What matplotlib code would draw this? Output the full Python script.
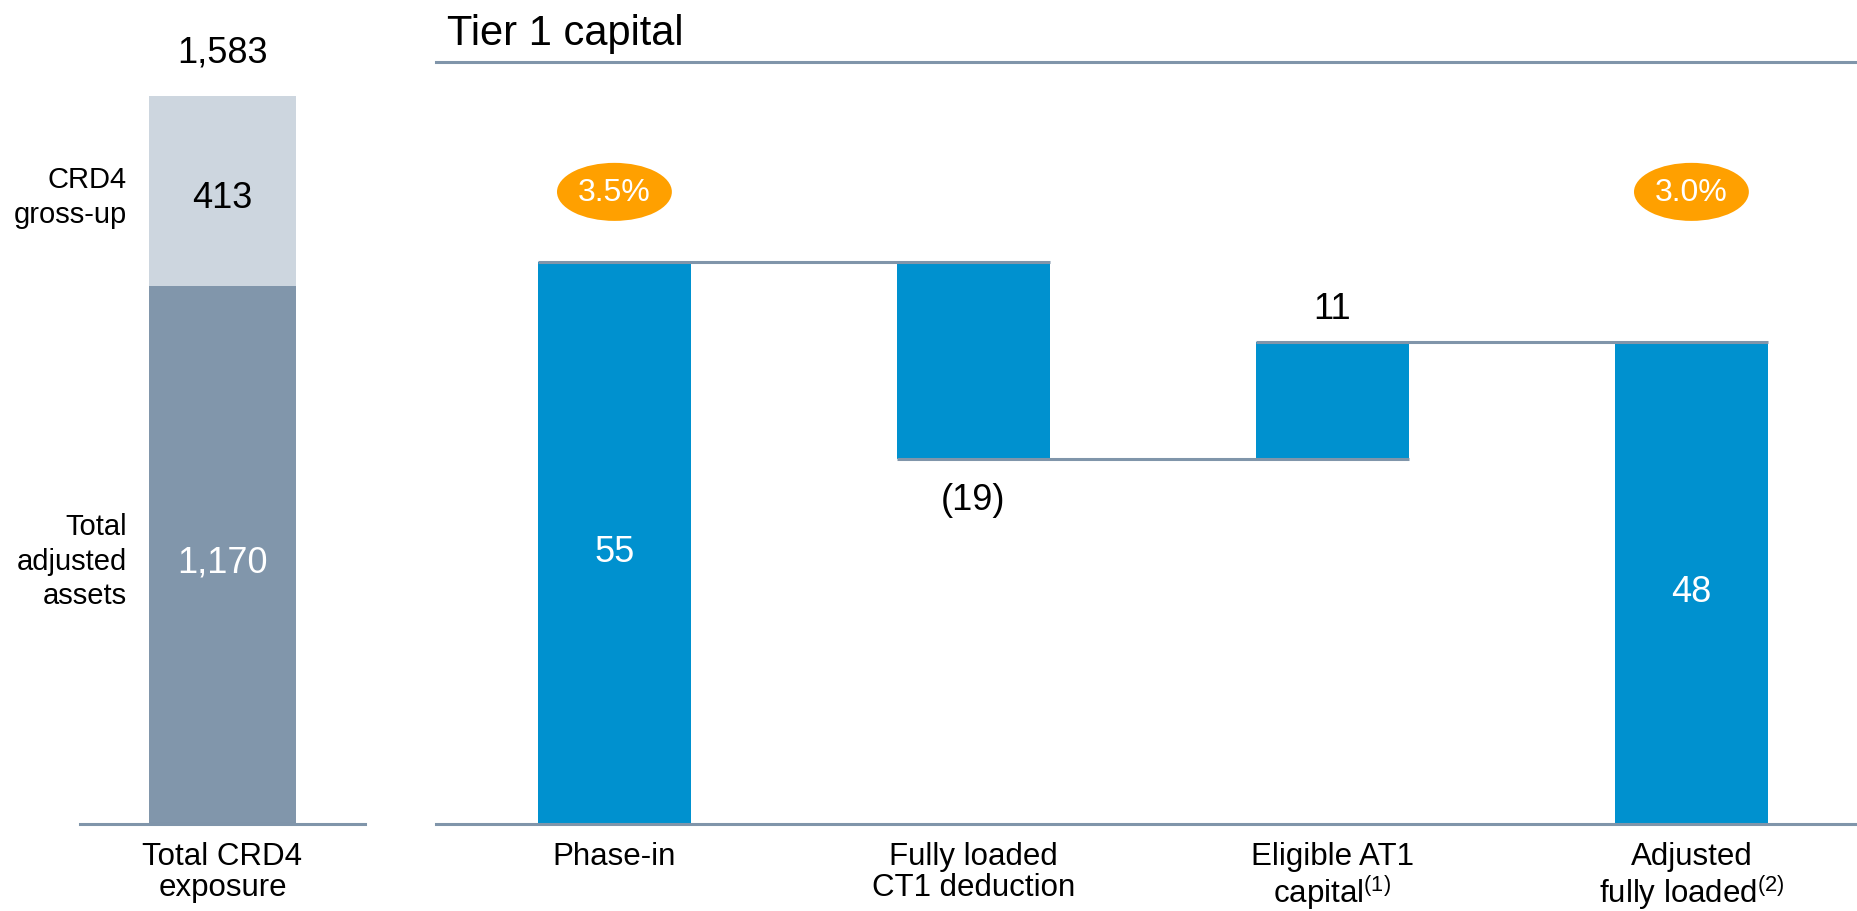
import matplotlib
matplotlib.use("Agg")
import matplotlib.pyplot as plt
from matplotlib.patches import Ellipse

plt.rcParams["font.family"] = ["Liberation Sans", "DejaVu Sans"]
plt.rcParams["mathtext.fontset"] = "custom"
plt.rcParams["mathtext.rm"] = "Liberation Sans"
plt.rcParams["mathtext.it"] = "Liberation Sans:italic"
plt.rcParams["mathtext.bf"] = "Liberation Sans:bold"
plt.rcParams["mathtext.default"] = "regular"

# 왼쪽: 레버리지 익스포저 (bottom → top)
exposure_parts = [1170, 413]
exposure_part_labels = ["1,170", "413"]
exposure_part_names = ["Total\nadjusted\nassets", "CRD4\ngross-up"]
exposure_total_label = "1,583"
exposure_category = "Total CRD4\nexposure"

# 오른쪽: Tier 1 capital 브리지 (마지막 막대 = 누적 합계)
steps = ["Phase-in", "Fully loaded\nCT1 deduction",
         "Eligible AT1\ncapital$^{(1)}$", "Adjusted\nfully loaded$^{(2)}$"]
step_values = [55.4, -19.4, 11.5]
step_labels = ["55", "(19)", "11", "48"]
ratio_badges = {0: "3.5%", 3: "3.0%"}

BLUE = "#0091cf"
DARK = "#8196ab"
LIGHT = "#cdd6df"
LINE = "#8095aa"
ORANGE = "#ffa000"

W, H = 1858, 912
fig = plt.figure(figsize=(W / 100, H / 100), dpi=100)


def px_axes(x0, x1, y_top, y_bot):
    """픽셀 좌표(위→아래)로 axes 생성."""
    return fig.add_axes([x0 / W, 1 - y_bot / H, (x1 - x0) / W, (y_bot - y_top) / H])


def _clean(ax):
    for side in ("left", "right", "top"):
        ax.spines[side].set_visible(False)
    ax.spines["bottom"].set_color(LINE)
    ax.spines["bottom"].set_linewidth(2.2)
    ax.set_yticks([])
    ax.tick_params(axis="x", length=0, pad=12, labelsize=22.5)
    for lab in ax.get_xticklabels():
        lab.set_linespacing(1.04)


# ---- left panel ----
ax1 = px_axes(80, 365, 97, 825)
bottom = 0
for val, lab, name, col, tcol in zip(exposure_parts, exposure_part_labels,
                                     exposure_part_names, [DARK, LIGHT],
                                     ["white", "black"]):
    ax1.bar(0, val, bottom=bottom, width=1.0, color=col, linewidth=0)
    mid = bottom + val / 2
    ax1.annotate(lab, (0, mid), xytext=(0, -5), textcoords="offset points",
                 ha="center", va="center", fontsize=26, color=tcol)
    ax1.annotate(name, (-0.65, mid), xytext=(0, -4), textcoords="offset points",
                 ha="right", va="center", fontsize=21, linespacing=1.3)
    bottom += val
ax1.annotate(exposure_total_label, (0, bottom), xytext=(0, 25),
             textcoords="offset points", ha="center", va="baseline", fontsize=26)
ax1.set_xlim(-0.97, 0.97)
ax1.set_ylim(0, bottom)
ax1.set_xticks([0])
ax1.set_xticklabels([exposure_category])
_clean(ax1)

# ---- right panel ----
ax2 = px_axes(436, 1858, 63, 825)
bw = 0.426
levels = [0]
for v in step_values:
    levels.append(levels[-1] + v)
bar_bottoms = [0] + levels[1:-1] + [0]
bar_heights = [step_values[0]] + step_values[1:] + [levels[-1]]
xs = list(range(len(steps)))

ax2.bar(xs, bar_heights, bottom=bar_bottoms, width=bw, color=BLUE, linewidth=0, zorder=2)

# 연결선
for i in range(len(steps) - 1):
    ax2.hlines(levels[i + 1], i - bw / 2, i + 1 + bw / 2, color=LINE, lw=2.2, zorder=3)

for i, (b, h, lab) in enumerate(zip(bar_bottoms, bar_heights, step_labels)):
    if i in (0, len(steps) - 1):
        ax2.annotate(lab, (i, b + h / 2), xytext=(0, -6), textcoords="offset points",
                     ha="center", va="center", fontsize=26, color="white", zorder=4)
    elif h < 0:
        ax2.annotate(lab, (i, b + h), xytext=(0, -29), textcoords="offset points",
                     ha="center", va="center", fontsize=26)
    else:
        ax2.annotate(lab, (i, b + h), xytext=(0, 24), textcoords="offset points",
                     ha="center", va="center", fontsize=26)

BADGE_Y = 62.3
for i, txt in ratio_badges.items():
    ax2.add_patch(Ellipse((i, BADGE_Y), 0.32, 5.72, facecolor=ORANGE, edgecolor="none", zorder=3))
    ax2.text(i, BADGE_Y, txt, ha="center", va="center", fontsize=23, color="white", zorder=4)

ax2.set_xlim(-0.497, 3.464)
ax2.set_ylim(0, 75.1)
ax2.set_xticks(xs)
ax2.set_xticklabels(steps)
_clean(ax2)
ax2.spines["top"].set_visible(True)
ax2.spines["top"].set_color(LINE)
ax2.spines["top"].set_linewidth(2.2)

fig.text(447 / W, 1 - 45 / H, "Tier 1 capital", fontsize=30, va="baseline", ha="left")

fig.savefig("out.png", dpi=100, facecolor="white")
